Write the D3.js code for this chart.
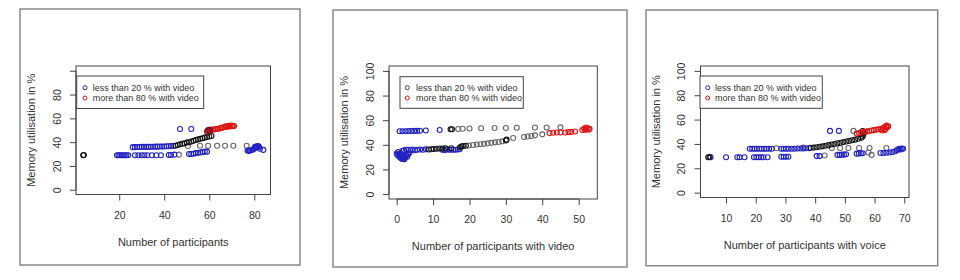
<!DOCTYPE html>
<html>
<head>
<meta charset="utf-8">
<script src="https://cdn.jsdelivr.net/npm/d3@7"></script>
<style>
  body { margin: 0; background: #fff; }
  svg { display: block; }
  text { font-family: "Liberation Sans", Arial, Helvetica, sans-serif; fill: #333; }
</style>
</head>
<body>
<svg width="960" height="280"></svg>
<script>
// colours used for the point groups
var BLUE = "#2222c0", GREY = "#66666e", BLACK = "#151515", RED = "#dd1515", DARKRED = "#8c1020";

var legendLabels = ["less than 20 % with video", "more than 80 % with video"];
var yTicks = [0, 20, 40, 60, 80, 100];

// ---- panel 1 : number of participants
var p1XTicks = [20, 40, 60, 80];
var p1Grey = [[46.5,29.5],[50.5,36.8],[55.9,37],[59.5,37],[63.5,37],[67,37],[70.7,37],[76.6,37]];
var p1Blue = [[26,35.8],[27,35.8],[28,35.9],[29,35.9],[30,36],[31,36],[32,36],[33,36],[34,36.1],[35,36.1],[36,36.2],[37,36.2],[38,36.3],[39,36.3],[40,36.4],[41,36.5],[42,36.6],[43,36.8],[44,37],
  [19,29],[19.7,29],[20.4,29],[21.1,29],[21.8,29],[22.5,29],[23.2,29],[24,29],[27,29],[28.5,29],[30,29],[31.2,29],[32.5,29],[34.5,29],[36.5,29],[38.5,29],[42,29.2],[43,29.2],[44.5,29.5],
  [51,30],[52,30],[53,30.3],[54,30.8],[55,31],[56,31.3],[57,31.7],[58,32],[59,32],
  [47,51],[52,51],
  [77,33],[77.5,32.5],[78,33],[78.6,33.2],[79.2,33.6],[79.8,34.2],[80.2,35.4],[80.5,36.2],[80.9,35.6],[81.3,36.4],[81.7,36.8],[82.1,36],[82.5,34.5],[84,33.5]];
var p1Black = [[4,29],[4.3,29.2],[45,37],[46,37.6],[47,38.2],[48,38.6],[49,39],[50,39.6],[51,40],[52,40.6],[53,41.2],[54,41.8],[55,42.3],[56,42.8],[57,43.3],[58,43.8],[59,44.3],[60,44.8],[61,45.2]];
var p1Red = [[59.5,50],[60.5,49.8],[61,50.3],[61.8,50.6],[62.5,50.8],[63.2,51],[64,51.2],[64.8,51.6],[65.5,52],[66.2,52.4],[67,52.8],[67.5,53.4],[68,53],[68.5,53.8],[69,53.2],[69.5,54],[70,53.4],[70.5,53.8],[71,53.5]];
var p1DarkRed = [[59,49],[59.4,50],[60,49.4],[60.2,50.5]];

// ---- panel 2 : number of participants with video
var p2XTicks = [0, 10, 20, 30, 40, 50];
var p2Grey = [[19.8,39.4],[21,39.8],[22,40.2],[23,40.5],[24,40.8],[25,41.2],[26,41.6],[27,42],[28,42.3],[29,42.8],[32,45.5],[35,46.4],[36,46.8],[37,47.2],[38,47.7],[40,48.5],
  [16.9,52.8],[18.1,53],[20,53.2],[23.2,53.5],[26.9,53.6],[30,53.6],[33,53.8],[38,54],[41.2,54],[45,54.2]];
var p2Blue = [[0.8,51],[1.6,51],[2.4,51],[3.2,51.2],[4,51.2],[4.8,51.3],[5.6,51.3],[6.4,51.4],[8,51.6],[11.8,52],
  [0,33],[0.2,32],[0.5,31],[0.9,30],[1.2,29],[1.5,28.5],[2,29],[2.3,30],[1.8,31.2],[2.6,31.6],[3.1,32.2],[1.1,33],[0.4,34.2],[0.8,32.3],[2.1,28.2],[2.9,30.4],[1.6,29.6],[3.5,33.5],
  [1.5,35],[2,35.6],[2.6,36],[3.2,36],[3.8,35.6],[4.4,36.2],[5,35.6],[5.6,36],[6.4,36.2],[7.2,36],[8,36.3],
  [12.5,36],[13.2,35.6],[13.8,36.4],[14.4,36],[15,36],[15.6,36],[16.2,36],[16.8,36.2],[17.3,36.4]];
var p2Black = [[8.8,36.2],[9.5,36.4],[10.2,36.6],[11,36.8],[11.8,37],[12.6,37],[13.4,37.2],[15,37.2],[17.4,38],[17.8,38.6],[18.2,39],[19,39.2],[30,43.5],[30.2,44.2],[14.8,52.6],[15.2,52.6]];
var p2Red = [[42,49.5],[43,49.8],[44,50],[45,50],[46.3,50],[47.2,50.3],[48,50.5],[49,50.8],[51,52],[51.5,53],[52,52.5],[52.5,53.5],[53,53],[52,54],[51.8,52.2],[52.8,52.2]];
var p2DarkRed = [];

// ---- panel 3 : number of participants with voice
var p3XTicks = [10, 20, 30, 40, 50, 60, 70];
var p3Grey = [[27,36.5],[43.2,30.5],[36,37],[45.6,36.6],[48.4,36.6],[51.2,36.6],[54.8,36.6],[58.3,36.6],[64,36.6],[57.9,33],[59,31],[52.9,50.7]];
var p3Blue = [[4.8,29],[10,29],[13.8,29],[14.6,29],[16.2,29],[19.4,29],[20.2,29],[21,29],[21.8,29],[22.6,29],[24,29],[28.6,29.5],[29.4,29.5],[30.2,29.5],[31,29.5],
  [18,36],[18.8,36],[19.6,36],[20.4,36],[21.2,36],[22,36],[22.8,36],[23.6,36],[24.5,36],[25.4,36],[28.6,36],[29.4,36],[30.2,36],[31,36],[32,36],[33,36],[34,36.2],[35,36.2],[36,36.3],[37,36.4],[38,36.5],
  [40.5,30],[41.5,30],[47.5,31],[48.3,31],[49,31.2],[49.7,31.2],[50.4,31.5],[54,32],[54.7,32.2],[55.4,32.4],[56,32.4],
  [62,32.6],[63,32.6],[64,32.8],[65,33],[66,33.3],[67,34],[67.6,35],[68,35.5],[68.4,36],[68.8,35.4],[69.2,36.2],[69.6,36],
  [45,50.7],[48,50.7]];
var p3Black = [[4,29],[4.4,29.2],[38.5,36.8],[39.5,37],[40.5,37.3],[41.5,37.7],[42.5,38],[43.5,38.5],[44.5,39],[45.5,39.5],[46.5,40],[47.5,40.5],[48.5,41],[49.5,41.5],[50.5,42],[51.5,42.5],[52.5,43],[53.5,43.5],[54.5,44.2],[55.5,45],[56,46],[56.2,47.5],[56.3,49],[56,50.5]];
var p3Red = [[54,48.5],[54.8,49],[55.5,49.5],[56.8,50],[57.5,50.3],[58.2,50.6],[59,51],[59.8,51.3],[60.5,51.6],[61.2,52],[62,52.3],[62.5,51],[62.8,52.8],[63.2,53.4],[63.5,52],[63.8,54],[64.2,53.5],[64.6,54.4],[64,55],[63.4,51.2]];
var p3DarkRed = [];

var svg = d3.select("svg");

var panels = [
  { frame: [20, 9, 280, 256], box: [76, 270.5, 66, 194.5], xDom: [0.8, 87.2], xTicks: p1XTicks, hideTop: true,
    xTitle: "Number of participants", legend: [76.7, 76, 127, 32.5, 85, 92.7], legendCols: [BLUE, RED],
    groups: [[p1Grey, GREY], [p1Blue, BLUE], [p1Black, BLACK], [p1Red, RED], [p1DarkRed, DARKRED]] },
  { frame: [333, 10, 294, 257], box: [389, 597.3, 66, 199], xDom: [-2.12, 55.12], xTicks: p2XTicks, hideTop: false,
    xTitle: "Number of participants with video", legend: [400, 76.7, 123.3, 31.6, 407.3, 416], legendCols: ["#444", RED],
    groups: [[p2Grey, GREY], [p2Blue, BLUE], [p2Black, BLACK], [p2Red, RED], [p2DarkRed, DARKRED]] },
  { frame: [646, 10, 291.7, 255.7], box: [700.5, 909, 66, 197.5], xDom: [1.4, 71.6], xTicks: p3XTicks, hideTop: false,
    xTitle: "Number of participants with voice", legend: [700, 76, 122.3, 32.3, 707.7, 715], legendCols: [BLUE, RED],
    groups: [[p3Grey, GREY], [p3Blue, BLUE], [p3Black, BLACK], [p3Red, RED], [p3DarkRed, DARKRED]] }
];

panels.forEach(drawPanel);

function drawPanel(p) {
  var l = p.box[0], r = p.box[1], t = p.box[2], b = p.box[3];
  var g = svg.append("g");

  g.append("rect")
    .attr("x", p.frame[0]).attr("y", p.frame[1])
    .attr("width", p.frame[2]).attr("height", p.frame[3])
    .attr("fill", "none").attr("stroke", "#808080").attr("stroke-width", 1.4);

  var x = d3.scaleLinear().domain(p.xDom).range([l, r]);
  var y = d3.scaleLinear().domain([-4, 104]).range([b, t]);

  // points first, box and axes on top
  p.groups.forEach(function(grp) {
    g.selectAll(null)
      .data(grp[0])
      .enter().append("circle")
      .attr("cx", function(d) { return x(d[0]); })
      .attr("cy", function(d) { return y(d[1]); })
      .attr("r", 2.5)
      .attr("fill", "none")
      .attr("stroke", grp[1])
      .attr("stroke-width", 1.1);
  });

  g.append("rect")
    .attr("x", l).attr("y", t).attr("width", r - l).attr("height", b - t)
    .attr("fill", "none").attr("stroke", "#444").attr("stroke-width", 1);

  // x axis, R style: line only from first to last tick
  var xa = g.append("g")
    .attr("transform", "translate(0," + b + ")")
    .call(d3.axisBottom(x).tickValues(p.xTicks).tickSize(6).tickPadding(11).tickSizeOuter(0));
  xa.select(".domain").remove();
  xa.append("line")
    .attr("x1", x(p.xTicks[0])).attr("x2", x(p.xTicks[p.xTicks.length - 1]))
    .attr("stroke", "#444");
  xa.selectAll(".tick line").attr("stroke", "#444");
  xa.selectAll(".tick text").style("font-size", "10.5px").attr("fill", "#333");

  // y axis, labels parallel to the axis
  var ya = g.append("g")
    .attr("transform", "translate(" + l + ",0)")
    .call(d3.axisLeft(y).tickValues(yTicks).tickSize(6).tickSizeOuter(0)
      .tickFormat(function(d) { return (p.hideTop && d === 100) ? "" : d; }));
  ya.select(".domain").remove();
  ya.append("line")
    .attr("y1", y(yTicks[0])).attr("y2", y(yTicks[yTicks.length - 1]))
    .attr("stroke", "#444");
  ya.selectAll(".tick line").attr("stroke", "#444");
  ya.selectAll(".tick text")
    .attr("x", null).attr("dy", null)
    .attr("transform", "translate(-15.5,0) rotate(-90)")
    .attr("text-anchor", "middle")
    .style("font-size", "10.5px").attr("fill", "#333");

  // axis titles
  g.append("text")
    .attr("x", (l + r) / 2).attr("y", b + 51)
    .attr("text-anchor", "middle")
    .style("font-size", "11px")
    .text(p.xTitle);

  g.append("text")
    .attr("transform", "translate(" + (l - 41) + "," + ((t + b) / 2) + ") rotate(-90)")
    .attr("text-anchor", "middle")
    .style("font-size", "11px")
    .text("Memory utilisation in %");

  // legend
  var lg = p.legend;
  g.append("rect")
    .attr("x", lg[0]).attr("y", lg[1]).attr("width", lg[2]).attr("height", lg[3])
    .attr("fill", "#fff").attr("stroke", "#444").attr("stroke-width", 1);

  var rows = [87.7, 98];
  legendLabels.forEach(function(lab, i) {
    g.append("circle")
      .attr("cx", lg[4]).attr("cy", rows[i]).attr("r", 2)
      .attr("fill", "none").attr("stroke", p.legendCols[i]).attr("stroke-width", 1);
    g.append("text")
      .attr("x", lg[5]).attr("y", rows[i] + 3.2)
      .style("font-size", "9px")
      .text(lab);
  });
}
</script>
</body>
</html>
